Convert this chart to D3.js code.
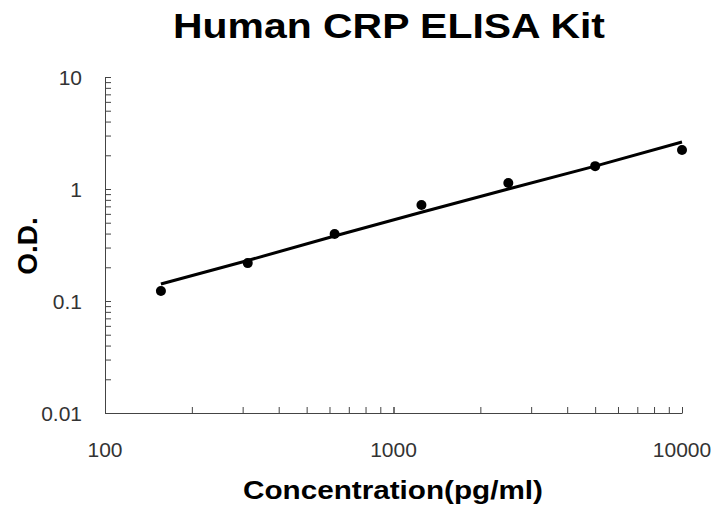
<!DOCTYPE html>
<html>
<head>
<meta charset="utf-8">
<script src="https://cdn.jsdelivr.net/npm/d3@7"></script>
<style>
  body { margin: 0; background: #fff; }
  text { font-family: "Liberation Sans", Arial, sans-serif; }
</style>
</head>
<body>
<div id="chart"></div>
<script>
// standard points
const concentrations = [156.25, 312.5, 625, 1250, 2500, 5000, 10000];
const odValues = [0.123, 0.218, 0.396, 0.72, 1.13, 1.60, 2.23];
// fitted curve as drawn
const fitOd = [0.142, 0.23, 0.38, 0.62, 1.0, 1.6, 2.63];
const xTicks = [100, 1000, 10000];
const yTicks = [0.01, 0.1, 1, 10];

const width = 711;
const height = 506;
const margin = { left: 105, right: 29, top: 77, bottom: 93 };

const svg = d3.select("#chart")
    .append("svg")
    .attr("width", width)
    .attr("height", height);

const xScale = d3.scaleLog()
    .domain([100, 10000])
    .range([margin.left, width - margin.right]);

const yScale = d3.scaleLog()
    .domain([0.01, 10])
    .range([height - margin.bottom, margin.top]);

// minor + major ticks, all pointing inward
const xMinor = [];
for (let d = 100; d < 10000; d *= 10) for (let k = 1; k <= 10; k++) xMinor.push(d * k);
const yMinor = [];
for (let d = 0.01; d < 10; d *= 10) for (let k = 1; k <= 10; k++) yMinor.push(+(d * k).toPrecision(3));

const xAxis = d3.axisBottom(xScale)
    .tickValues(xMinor)
    .tickSize(-6)
    .tickSizeOuter(0)
    .tickFormat("");

const yAxis = d3.axisLeft(yScale)
    .tickValues(yMinor)
    .tickSize(-6)
    .tickSizeOuter(0)
    .tickFormat("");

svg.append("g")
    .attr("transform", `translate(0, ${height - margin.bottom})`)
    .call(xAxis)
    .call(g => g.selectAll("path, line").attr("stroke", "#444"));

svg.append("g")
    .attr("transform", `translate(${margin.left}, 0)`)
    .call(yAxis)
    .call(g => g.selectAll("path, line").attr("stroke", "#444"));

// tick labels
svg.append("g").selectAll("text")
    .data(xTicks)
    .enter()
    .append("text")
    .attr("x", d => xScale(d))
    .attr("y", 457)
    .attr("text-anchor", "middle")
    .attr("font-size", 21)
    .attr("fill", "#333")
    .text(d => d);

svg.append("g").selectAll("text")
    .data(yTicks)
    .enter()
    .append("text")
    .attr("x", 82)
    .attr("y", d => yScale(d) + 8)
    .attr("text-anchor", "end")
    .attr("font-size", 21)
    .attr("fill", "#333")
    .text(d => d);

// fitted line
const line = d3.line()
    .x((d, i) => xScale(concentrations[i]))
    .y(d => yScale(d));

svg.append("path")
    .datum(fitOd)
    .attr("fill", "none")
    .attr("stroke", "#000")
    .attr("stroke-width", 3)
    .attr("d", line);

// points
svg.selectAll(".dot")
    .data(odValues)
    .enter()
    .append("circle")
    .attr("class", "dot")
    .attr("cx", (d, i) => xScale(concentrations[i]))
    .attr("cy", d => yScale(d))
    .attr("r", 5)
    .attr("fill", "#000");

// titles
svg.append("text")
    .attr("x", 389)
    .attr("y", 38)
    .attr("text-anchor", "middle")
    .attr("font-size", 35)
    .attr("font-weight", "bold")
    .attr("textLength", 432)
    .attr("lengthAdjust", "spacingAndGlyphs")
    .text("Human CRP ELISA Kit");

svg.append("text")
    .attr("x", 393)
    .attr("y", 499)
    .attr("text-anchor", "middle")
    .attr("font-size", 26)
    .attr("font-weight", "bold")
    .attr("textLength", 300)
    .attr("lengthAdjust", "spacingAndGlyphs")
    .text("Concentration(pg/ml)");

svg.append("text")
    .attr("transform", "translate(37, 246) rotate(-90)")
    .attr("text-anchor", "middle")
    .attr("font-size", 28)
    .attr("font-weight", "bold")
    .text("O.D.");
</script>
</body>
</html>
